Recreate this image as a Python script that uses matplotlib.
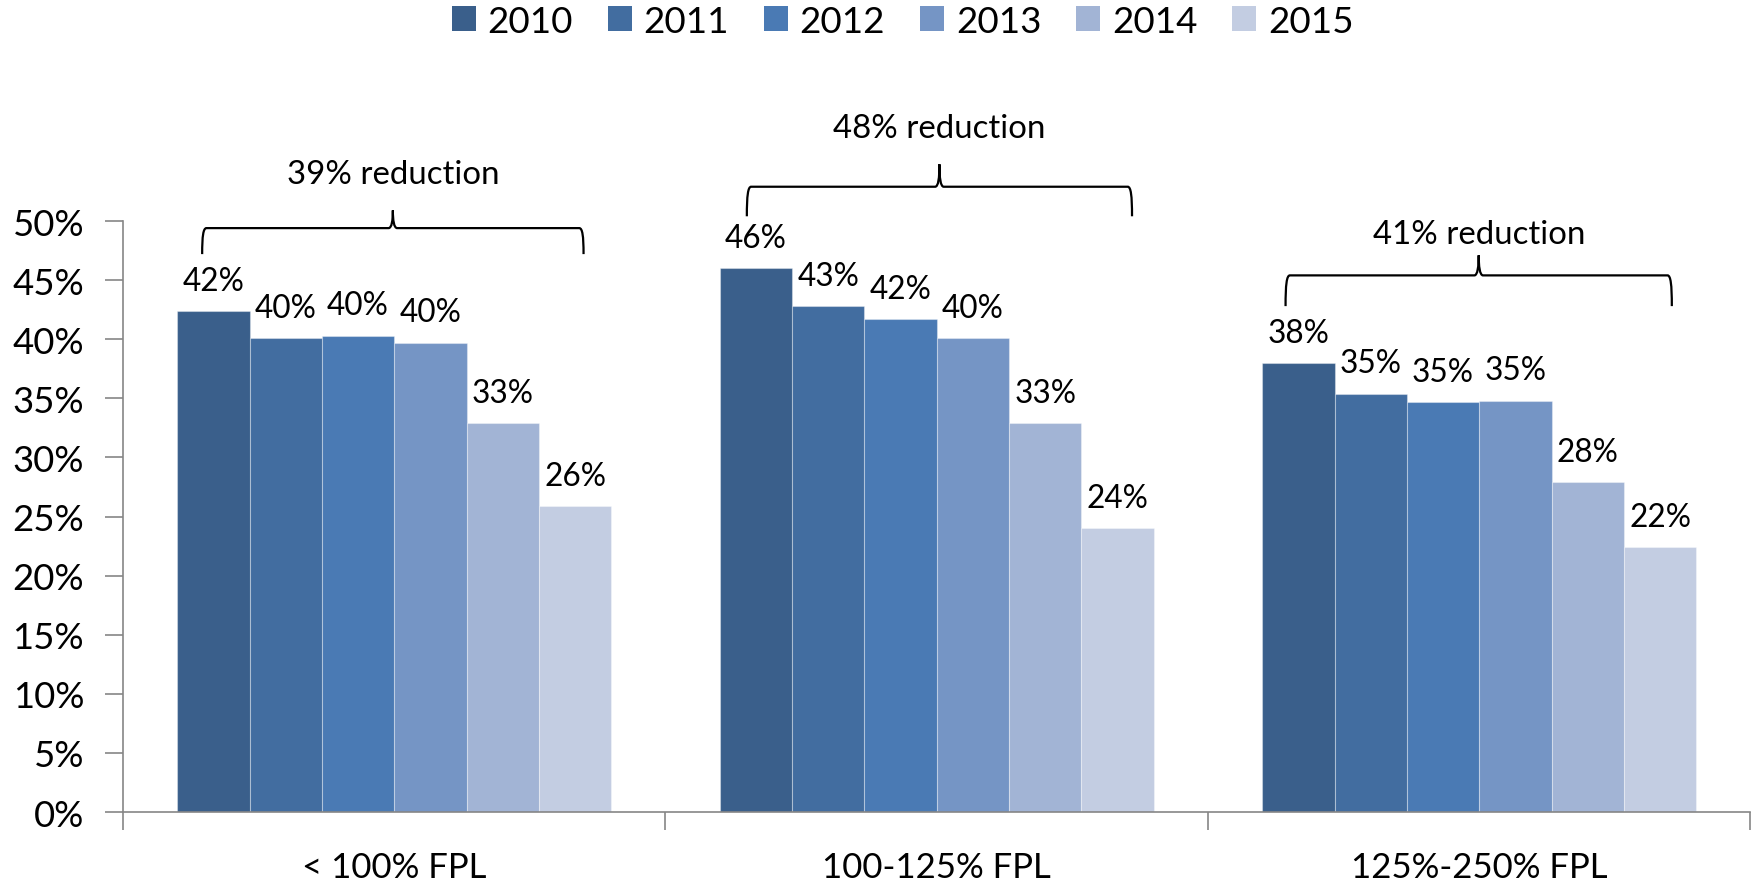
import matplotlib
matplotlib.use("Agg")
import matplotlib.pyplot as plt
from matplotlib.patches import Patch, PathPatch
from matplotlib.path import Path
import numpy as np

plt.rcParams['font.family'] = ['Lato', 'DejaVu Sans']

categories = ["< 100% FPL", "100-125% FPL", "125%-250% FPL"]
years = ["2010", "2011", "2012", "2013", "2014", "2015"]
values = {
    "2010": [42.4, 46.0, 38.0],
    "2011": [40.1, 42.8, 35.4],
    "2012": [40.3, 41.7, 34.7],
    "2013": [39.7, 40.1, 34.8],
    "2014": [32.9, 32.9, 27.9],
    "2015": [25.9, 24.0, 22.4],
}
labels = {
    "2010": ["42%", "46%", "38%"],
    "2011": ["40%", "43%", "35%"],
    "2012": ["40%", "42%", "35%"],
    "2013": ["40%", "40%", "35%"],
    "2014": ["33%", "33%", "28%"],
    "2015": ["26%", "24%", "22%"],
}
reductions = ["39% reduction", "48% reduction", "41% reduction"]
colors = ["#3A5F8B", "#426DA0", "#4A7AB4", "#7595C5", "#A2B4D5", "#C3CDE2"]

FS_TICK = 26.3
FS_XTICK = 25.0
FS_LAB = 22.8
FS_RED = 23.8
FS_LEG = 26.5

fig = plt.figure(figsize=(17.54, 8.87), dpi=100)
ax = fig.add_axes([0.0701, 0.0834, 0.9279, 0.6663])

n = len(years)
bw = 1.0 / (n + 1.5)
x = np.arange(len(categories))
for i, yr in enumerate(years):
    xs = x - 0.5 + 0.75 * bw + (i + 0.5) * bw
    ax.bar(xs, values[yr], width=bw, color=colors[i], edgecolor=(1, 1, 1, 0.35),
           linewidth=0.8, label=yr, zorder=2)
    for xi, v, lab in zip(xs, values[yr], labels[yr]):
        ax.annotate(lab, (xi, v), xytext=(0, 11), textcoords="offset points",
                    ha="center", va="bottom", fontsize=FS_LAB, color="black",
                    annotation_clip=False)

# braces: (left, right, line y, end y, tip y, text y)
brace_specs = [
    (-0.354, 0.349, 49.4, 47.2, 50.9, 54.0),
    (-0.350, 0.360, 52.9, 50.4, 54.8, 57.9),
    (-0.357, 0.355, 45.4, 42.8, 47.1, 48.9),
]
for ci, (l, r, ly, ey, ty, txy) in enumerate(brace_specs):
    c = x[ci]
    xl, xr = c + l, c + r
    xm = (xl + xr) / 2
    dx = 0.008
    h = ly - ey
    verts = [
        (xl, ey), (xl, ly - 0.3 * h), (xl + 0.002, ly), (xl + dx, ly),
        (xm - dx, ly), (xm - 0.002, ly), (xm, ly + 0.3 * h), (xm, ty),
        (xm, ly + 0.3 * h), (xm + 0.002, ly), (xm + dx, ly),
        (xr - dx, ly), (xr - 0.002, ly), (xr, ly - 0.3 * h), (xr, ey),
    ]
    codes = [Path.MOVETO, Path.CURVE4, Path.CURVE4, Path.CURVE4,
             Path.LINETO, Path.CURVE4, Path.CURVE4, Path.CURVE4,
             Path.CURVE4, Path.CURVE4, Path.CURVE4,
             Path.LINETO, Path.CURVE4, Path.CURVE4, Path.CURVE4]
    pp = PathPatch(Path(verts, codes), facecolor="none", edgecolor="black",
                   linewidth=1.6, clip_on=False, zorder=3)
    ax.add_patch(pp)
    ax.text(xm, txy, reductions[ci], ha="center", va="center", fontsize=FS_RED,
            color="black", clip_on=False)

ax.set_xlim(-0.5, len(categories) - 0.5)
ax.set_ylim(0, 50)
ax.set_yticks(np.arange(0, 51, 5))
ax.set_yticklabels([f"{v}%" for v in range(0, 51, 5)], fontsize=FS_TICK)
ax.set_xticks(x)
ax.set_xticklabels(categories, fontsize=FS_XTICK)
ax.set_xticks(np.arange(-0.5, len(categories), 1.0), minor=True)
ax.tick_params(axis="x", which="major", length=0, pad=28)
ax.tick_params(axis="x", which="minor", length=13, width=1.2, color="#868686", direction="out")
ax.tick_params(axis="y", length=13, width=1.2, color="#868686", direction="out", pad=15)
for s in ["top", "right"]:
    ax.spines[s].set_visible(False)
for s in ["left", "bottom"]:
    ax.spines[s].set_color("#868686")
    ax.spines[s].set_linewidth(1.2)

handles = [Patch(facecolor=c, edgecolor="none", label=y) for c, y in zip(colors, years)]
fig.legend(handles=handles, loc="center", bbox_to_anchor=(0.5146, 0.975), ncol=6,
           frameon=False, fontsize=FS_LEG, handlelength=0.65, handleheight=0.65,
           handletextpad=0.32, columnspacing=0.95)

fig.savefig("out.png", dpi=100)
